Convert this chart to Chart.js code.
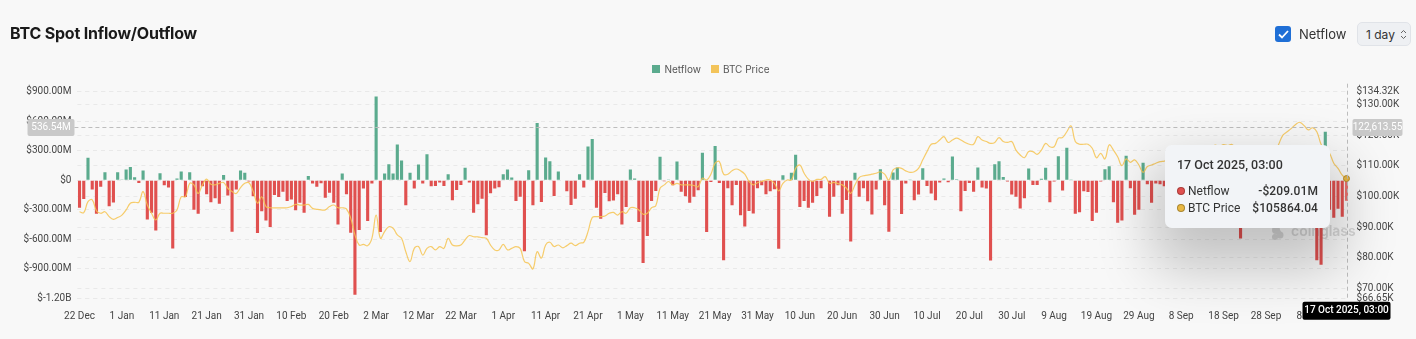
<!DOCTYPE html>
<html lang="en">
  <head>
    <meta charset="UTF-8" />
    <title>BTC Spot Inflow/Outflow</title>
    <script src="https://cdn.jsdelivr.net/npm/chart.js"></script>
    <style>
      body {
        margin: 0;
        padding: 0;
        background: #f8f8f8;
        font-family: "Inter", "Noto Sans", sans-serif;
        width: 1416px;
        height: 339px;
        overflow: hidden;
        position: relative;
      }

      #flowChart {
        position: absolute;
        left: 0;
        top: 0;
      }

      h1 {
        position: absolute;
        left: 10px;
        top: 23px;
        margin: 0;
        font-size: 16px;
        font-weight: 700;
        color: #1a1a1a;
        letter-spacing: -0.2px;
      }

      .toggle {
        position: absolute;
        left: 1275px;
        top: 26px;
        display: flex;
        align-items: center;
        font-size: 13px;
        color: #333;
      }

      .toggle .box {
        width: 16px;
        height: 16px;
        border-radius: 3px;
        background: #1f6fd6;
        margin-right: 8px;
        display: flex;
        align-items: center;
        justify-content: center;
      }

      .period {
        position: absolute;
        left: 1357px;
        top: 22px;
        width: 54px;
        height: 24px;
        box-sizing: border-box;
        border: 1px solid #e0e3e8;
        border-radius: 5px;
        background: #eef0f3;
        font-size: 12px;
        color: #333;
        display: flex;
        align-items: center;
        padding-left: 8px;
      }

      .period svg {
        margin-left: 5px;
      }

      .legend {
        position: absolute;
        top: 63px;
        left: 0;
        width: 1422px;
        display: flex;
        justify-content: center;
        font-size: 10px;
        color: #555;
      }

      .legend span {
        display: flex;
        align-items: center;
        margin: 0 5px;
      }

      .legend i {
        display: inline-block;
        width: 8px;
        height: 8px;
        margin-right: 4px;
      }

      .tip {
        position: absolute;
        left: 1165px;
        top: 145px;
        width: 165px;
        height: 83px;
        box-sizing: border-box;
        padding: 12px 12px 0 12px;
        background: #f2f4f7;
        border-radius: 7px;
        box-shadow: 0 28px 55px 12px rgba(0, 0, 0, 0.22);
        font-family: Roboto, sans-serif;
        font-size: 12px;
        color: #333;
      }

      .tip .title {
        font-size: 12.5px;
        font-weight: 500;
        margin-bottom: 10px;
      }

      .tip .row {
        display: flex;
        align-items: center;
        height: 17px;
      }

      .tip .dot {
        width: 6px;
        height: 6px;
        border-radius: 50%;
        margin-right: 4px;
        margin-left: 1px;
      }

      .tip .val {
        margin-left: auto;
        font-weight: 500;
        letter-spacing: 0.1px;
      }
    </style>
  </head>
  <body>
    <canvas id="flowChart" width="1416" height="339"></canvas>

    <h1>BTC Spot Inflow/Outflow</h1>

    <div class="toggle">
      <div class="box">
        <svg width="11" height="9" viewBox="0 0 11 9">
          <path d="M1 4.5 L4 7.5 L10 1" stroke="#fff" stroke-width="1.8" fill="none" />
        </svg>
      </div>
      Netflow
    </div>

    <div class="period">
      1 day
      <svg width="7" height="11" viewBox="0 0 7 11">
        <path d="M1 4 L3.5 1.5 L6 4 M1 7 L3.5 9.5 L6 7" stroke="#666" stroke-width="1" fill="none" />
      </svg>
    </div>

    <div class="legend">
      <span><i style="background: #5bab8e"></i>Netflow</span>
      <span><i style="background: #f3c45a"></i>BTC Price</span>
    </div>

    <div class="tip">
      <div class="title">17 Oct 2025, 03:00</div>
      <div class="row">
        <div class="dot" style="background: #e0504f; box-shadow: 0 0 0 1px #a93a38"></div>
        Netflow<span class="val">-$209.01M</span>
      </div>
      <div class="row">
        <div class="dot" style="background: #e9b843; box-shadow: 0 0 0 1px #a9852d"></div>
        BTC Price<span class="val">$105864.04</span>
      </div>
    </div>

    <script>
      // daily buckets, 22 Dec 2024 .. 17 Oct 2025
      const startDay = new Date(Date.UTC(2024, 11, 22));
      const dayCount = 300;
      const monthNames = ["Jan", "Feb", "Mar", "Apr", "May", "Jun", "Jul", "Aug", "Sep", "Oct", "Nov", "Dec"];
      const days = [];
      for (let i = 0; i < dayCount; i++) {
        const d = new Date(startDay.getTime() + i * 86400000);
        days.push(d.getUTCDate() + " " + monthNames[d.getUTCMonth()]);
      }

      // spot netflow, $M per day
      const netflow = [
        -280, -190, 228, -95, -340, -65, 82, -265, -225, 82,
        7, 110, 135, 30, -27, 100, -400, -330, -510, 71,
        -51, -75, -694, 17, 88, -170, 82, -300, -340, -61,
        -143, -224, -184, -238, 54, -156, -524, -95, 99, 75,
        -14, -163, -537, -316, -408, -476, -150, -170, -116, -211,
        -195, -306, -228, -330, 44, -34, -65, -31, -177, -126,
        -228, -449, 68, -143, -534, -1163, -507, -85, -415, -34,
        850, -527, 68, 163, 68, 364, 200, -255, 75, -85,
        160, -34, 265, -61, -58, -24, -58, 61, -204, -99,
        -48, 126, -24, -330, -245, -187, -558, -133, -85, -71,
        61, 109, 27, -211, -167, -721, 102, -255, 581, -221,
        231, 194, -160, 88, -5, -112, -251, -187, 61, -75,
        343, 418, -279, -391, -129, -214, -207, -143, -449, -272,
        109, 17, -425, -840, -568, -211, -109, 238, -10, 7,
        -51, 190, -116, -163, -228, -167, -102, 279, -527, -17,
        347, -27, -813, -82, -255, -48, -357, -469, -313, -337,
        -82, -51, -143, -112, -92, -697, 51, -5, 75, 258,
        -272, -211, -279, -228, -160, -82, -5, -371, -167, -51,
        -340, -201, -622, 75, -167, -82, -214, -347, -95, 112,
        -255, -524, 78, 129, -343, -34, 7, -204, -146, 122,
        -58, -136, -204, -24, 17, -20, 241, 10, -316, -109,
        -27, -116, 129, -75, -85, -816, 163, 194, 34, -14,
        -146, -167, -286, -184, 119, -48, -48, 14, 126, -224,
        -14, 245, -105, 330, 7, -340, -326, -112, -119, -415,
        -330, -14, 112, 143, -224, -432, -408, 248, -82, -350,
        -300, 177, -41, -228, -34, -41, -60, -120, 85, -210,
        -95, 140, -60, -300, 60, -180, -45, 110, -250, -130,
        70, -90, -330, -160, -592, -240, 95, -380, -150, 40,
        -210, 180, -70, 150, 230, -110, 90, -260, -140, 60,
        -310, -190, -813, -860, 493, -300, -380, -290, -370, -209.01,
      ];

      // BTC close, $K
      const btcPrice = [
        95.0, 94.7, 98.3, 98.9, 95.3, 94.5, 95.0, 93.4, 92.5, 93.1,
        93.9, 95.6, 97.8, 98.1, 98.1, 101.6, 97.2, 94.5, 92.3, 94.5,
        94.5, 94.5, 94.5, 95.6, 99.9, 99.9, 104.3, 103.8, 101.0, 103.8,
        105.7, 104.0, 103.8, 104.3, 104.6, 102.7, 101.6, 101.0, 102.9, 104.3,
        104.5, 101.6, 97.8, 99.9, 96.7, 96.3, 96.3, 96.3, 96.3, 96.3,
        96.7, 97.4, 97.2, 97.2, 97.4, 96.1, 95.8, 95.6, 95.6, 96.7,
        97.2, 96.3, 96.3, 95.9, 92.9, 87.4, 84.1, 84.3, 83.9, 86.3,
        93.9, 86.3, 88.5, 90.1, 89.6, 87.4, 86.3, 81.9, 78.7, 83.0,
        83.6, 80.8, 83.0, 83.6, 82.5, 83.6, 83.0, 86.3, 84.1, 83.8,
        84.1, 85.8, 87.2, 86.8, 86.8, 86.5, 86.3, 84.1, 82.5, 82.5,
        84.3, 82.5, 83.0, 83.6, 83.0, 78.7, 78.1, 76.3, 81.9, 79.8,
        84.1, 85.0, 83.6, 84.1, 83.2, 83.9, 84.7, 83.9, 84.7, 85.0,
        88.5, 93.1, 93.4, 93.4, 93.6, 94.5, 94.8, 93.9, 95.0, 94.5,
        96.3, 96.3, 95.6, 94.2, 94.5, 96.3, 97.0, 102.7, 103.8, 104.9,
        103.8, 104.3, 103.8, 103.8, 103.8, 103.6, 103.2, 106.0, 105.4, 107.3,
        110.9, 111.4, 107.3, 107.3, 108.4, 109.0, 108.4, 107.3, 104.9, 103.8,
        104.5, 104.9, 105.4, 105.4, 104.3, 101.8, 104.3, 105.4, 105.4, 109.2,
        110.3, 107.6, 105.7, 104.9, 105.6, 105.6, 106.5, 104.3, 104.6, 104.2,
        103.8, 102.7, 101.0, 103.8, 106.2, 106.8, 107.0, 107.3, 107.6, 108.1,
        107.3, 105.4, 108.7, 109.4, 109.2, 108.4, 107.9, 108.1, 109.2, 112.0,
        114.7, 117.1, 117.4, 118.5, 119.6, 117.7, 118.5, 119.1, 118.5, 117.7,
        117.1, 117.1, 119.6, 118.5, 118.0, 117.4, 117.7, 119.3, 118.0, 117.7,
        118.0, 115.2, 113.6, 112.7, 114.7, 114.7, 113.8, 115.2, 117.4, 116.3,
        116.3, 119.1, 119.3, 121.2, 123.1, 118.0, 117.1, 117.1, 117.1, 115.8,
        112.7, 114.1, 112.3, 116.9, 115.2, 113.0, 110.1, 112.3, 111.2, 112.0,
        110.3, 107.9, 109.8, 110.3, 110.9, 111.4, 111.6, 112.0, 112.5, 111.5,
        111.0, 112.2, 113.5, 114.0, 115.5, 116.0, 115.8, 116.0, 116.8, 116.4,
        117.0, 116.7, 117.0, 115.5, 112.8, 112.5, 113.0, 109.5, 109.3, 109.8,
        112.0, 114.5, 114.0, 117.1, 120.1, 121.2, 122.3, 123.6, 124.3, 123.2,
        121.8, 122.5, 121.2, 117.1, 115.2, 114.1, 110.9, 109.2, 107.0, 105.86404,
      ];

      // axis bounds and price ticks ($K)
      const flowMin = -1200;
      const flowMax = 900;
      const priceMin = 66.65;
      const priceMax = 134.32;
      const priceTicks = [66.65, 70, 80, 90, 100, 110, 120, 130, 134.32];

      // cursor readout
      const cursorFlow = "536.54M";
      const cursorPrice = "122,613.55";
      const cursorFlowValue = 536.54;
      const cursorTime = "17 Oct 2025, 03:00";

      const GREEN = "#5bab8e";
      const RED = "#e0504f";
      const lastIdx = dayCount - 1;

      const barColors = netflow.map((v, i) =>
        i === lastIdx ? "#e9716f" : v >= 0 ? GREEN : RED
      );
      const pointSizes = btcPrice.map((v, i) => (i === lastIdx ? 3 : 0));

      function fmtFlow(v) {
        if (v === 0) return "$0";
        if (Math.abs(v) >= 1000) return "$" + (v / 1000).toFixed(2) + "B";
        return "$" + v.toFixed(2) + "M";
      }

      function roundRect(ctx, x, y, w, h, r) {
        ctx.beginPath();
        ctx.moveTo(x + r, y);
        ctx.arcTo(x + w, y, x + w, y + h, r);
        ctx.arcTo(x + w, y + h, x, y + h, r);
        ctx.arcTo(x, y + h, x, y, r);
        ctx.arcTo(x, y, x + w, y, r);
        ctx.closePath();
      }

      // watermark under the bars, crosshair + axis readouts on top
      const overlayPlugin = {
        id: "overlay",
        beforeDatasetsDraw(chart) {
          const ctx = chart.ctx;
          ctx.save();
          ctx.fillStyle = "rgba(160,160,160,0.4)";
          ctx.beginPath();
          ctx.arc(1276, 230, 4, 0, Math.PI * 2);
          ctx.arc(1280, 235, 3.5, 0, Math.PI * 2);
          ctx.arc(1275, 237, 3, 0, Math.PI * 2);
          ctx.fill();
          ctx.font = "600 14px Inter, sans-serif";
          ctx.textBaseline = "middle";
          ctx.fillText("coinglass", 1291, 232);
          ctx.restore();
        },
        afterDatasetsDraw(chart) {
          const { ctx, chartArea: a, scales } = chart;
          const cy = scales.yFlow.getPixelForValue(cursorFlowValue);
          const cx = scales.x.getPixelForValue(lastIdx) + 1;
          ctx.save();
          ctx.strokeStyle = "#bdbdbd";
          ctx.lineWidth = 1;
          ctx.setLineDash([4, 3]);
          ctx.beginPath();
          ctx.moveTo(a.left - 3, Math.round(cy) + 0.5);
          ctx.lineTo(a.right, Math.round(cy) + 0.5);
          ctx.moveTo(Math.round(cx) + 0.5, a.top - 8);
          ctx.lineTo(Math.round(cx) + 0.5, a.bottom);
          ctx.stroke();
          ctx.setLineDash([]);

          ctx.font = "10px Roboto, sans-serif";
          ctx.textBaseline = "middle";
          ctx.textAlign = "center";

          ctx.fillStyle = "#c9c9c9";
          roundRect(ctx, 27.5, cy - 8.5, 47, 17, 2);
          ctx.fill();
          ctx.fillStyle = "#fff";
          ctx.fillText(cursorFlow, 51, cy);

          ctx.fillStyle = "#c9c9c9";
          roundRect(ctx, 1352.5, cy - 8.5, 50, 17, 2);
          ctx.fill();
          ctx.fillStyle = "#fff";
          ctx.fillText(cursorPrice, 1377.5, cy);

          ctx.fillStyle = "#000";
          roundRect(ctx, 1302.5, a.bottom + 3.5, 88, 18, 2);
          ctx.fill();
          ctx.fillStyle = "#fff";
          ctx.font = "500 10px Roboto, sans-serif";
          ctx.fillText(cursorTime, 1346.5, a.bottom + 12.5);
          ctx.restore();
        },
      };

      const ctx = document.getElementById("flowChart").getContext("2d");

      new Chart(ctx, {
        data: {
          labels: days,
          datasets: [
            {
              type: "line",
              label: "BTC Price",
              data: btcPrice,
              yAxisID: "yPrice",
              borderColor: "rgba(246, 196, 82, 0.85)",
              borderWidth: 1.2,
              backgroundColor: "#e9b843",
              pointRadius: pointSizes,
              pointBorderColor: "#b58b2c",
              pointBorderWidth: 1,
              tension: 0.4,
              order: 0,
            },
            {
              type: "bar",
              label: "Netflow",
              data: netflow,
              yAxisID: "yFlow",
              backgroundColor: barColors,
              categoryPercentage: 0.8,
              barPercentage: 0.92,
              order: 1,
            },
          ],
        },
        options: {
          responsive: false,
          animation: false,
          devicePixelRatio: 1,
          layout: { padding: { top: 91.7, bottom: 0, left: 0, right: 0 } },
          plugins: {
            legend: { display: false },
            tooltip: { enabled: false },
          },
          scales: {
            x: {
              offset: true,
              grid: { display: false },
              border: { display: false },
              ticks: {
                autoSkip: false,
                maxRotation: 0,
                padding: 4,
                color: "#444",
                font: { size: 10, family: "Roboto" },
                callback: (v, i) => (i % 10 === 0 ? days[i] : ""),
              },
              afterFit: (s) => {
                s.height = 339 - 298.3;
              },
            },
            yFlow: {
              position: "left",
              min: flowMin,
              max: flowMax,
              grid: { color: "#e9e9e9", drawTicks: false },
              border: { display: false, dash: [4, 4] },
              ticks: {
                stepSize: 300,
                padding: 6,
                color: "#444",
                font: { size: 10, family: "Roboto" },
                callback: (v) => fmtFlow(v),
              },
              afterFit: (s) => {
                s.width = 77.4;
              },
            },
            yPrice: {
              position: "right",
              min: priceMin,
              max: priceMax,
              grid: { color: "#e9e9e9", drawTicks: false },
              border: { display: false, dash: [4, 4] },
              afterBuildTicks: (s) => {
                s.ticks = priceTicks.map((v) => ({ value: v }));
              },
              ticks: {
                padding: 8,
                color: "#444",
                font: { size: 10, family: "Roboto" },
                callback: (v) => "$" + Number(v).toFixed(2) + "K",
              },
              afterFit: (s) => {
                s.width = 1416 - 1348.6;
              },
            },
          },
        },
        plugins: [overlayPlugin],
      });
    </script>
  </body>
</html>
